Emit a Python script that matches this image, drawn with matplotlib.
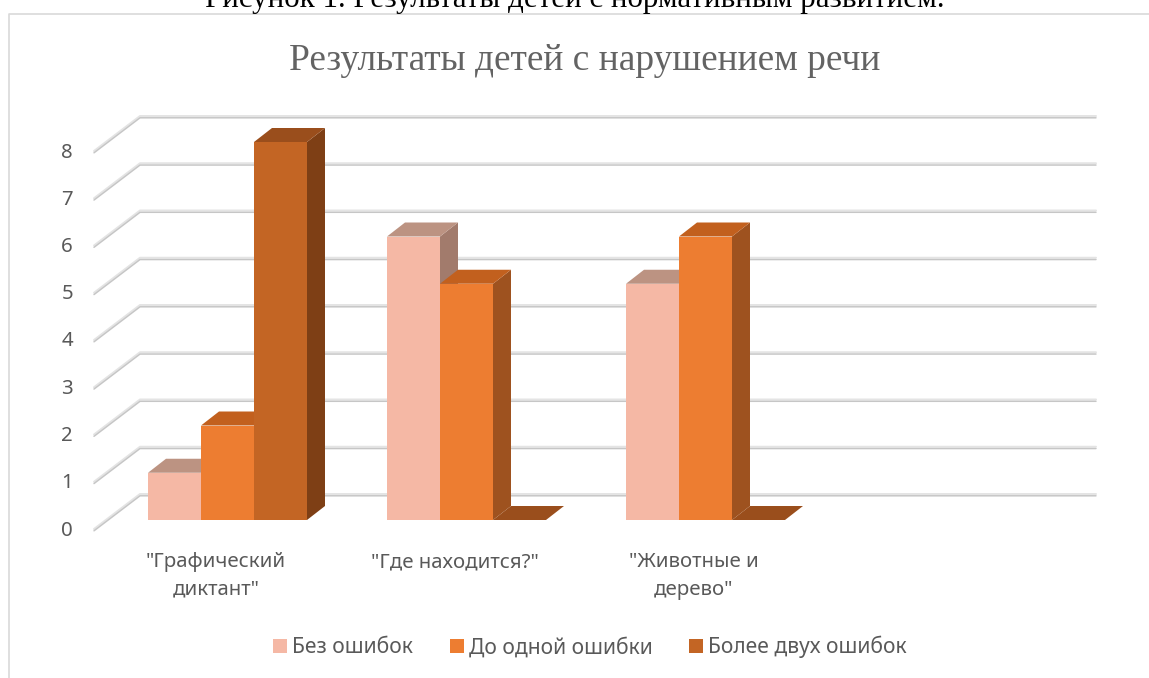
import matplotlib
matplotlib.use("Agg")
import matplotlib.pyplot as plt
from matplotlib.lines import Line2D
from matplotlib.patches import Patch, Polygon
from matplotlib.transforms import ScaledTranslation

categories = ['"Графический\nдиктант"', '"Где находится?"', '"Животные и\nдерево"', '']
series_names = ['Без ошибок', 'До одной ошибки', 'Более двух ошибок']
no_errors = [1, 6, 5]
one_error = [2, 5, 6]
two_errors = [8, 0, 0]
y_ticks = [0, 1, 2, 3, 4, 5, 6, 7, 8]
front_colors = ['#F5B8A5', '#ED7D31', '#C36524']
top_colors = ['#BC9382', '#C2601E', '#9A4E1C']
side_colors = ['#A27B6C', '#9E521F', '#7E3F15']
chart_title = 'Результаты детей с нарушением речи'
page_caption = 'Рисунок 1. Результаты детей с нормативным развитием.'

W, H = 1149, 678
fig = plt.figure(figsize=(W / 100, H / 100), dpi=100, facecolor='white')
ax = fig.add_axes([140 / W, 1 - 495 / H, 956 / W, 378 / H])
ax.set_xlim(-0.5, 3.5)
ax.set_ylim(0, 8)
ax.patch.set_visible(False)
for s in ax.spines.values():
    s.set_visible(False)

PX_X = 239.0
PX_Y = 47.25


def at(x, y, dx=0.0, dy=0.0):
    """Data point moved by a depth offset in pixels (dy is upwards)."""
    return (x + dx / PX_X, y + dy / PX_Y)


# gridlines: back wall plus the slanted side wall
for v in y_ticks:
    for shift, col, lw in [(1.0, '#E4E4E4', 2.0), (-0.8, '#C6C6C6', 1.5)]:
        xs, ys = zip(at(-0.5, v, -46, -35 + shift), at(-0.5, v, 0, shift), at(3.5, v, 0, shift))
        ax.plot(xs, ys, color=col, lw=lw * 0.72, clip_on=False, zorder=1,
                solid_capstyle='round', solid_joinstyle='round')

BAR_PX = 53.0
FRONT = (-32.0, -25.0)
DEPTH = (18.0, 14.0)
BAR_W = BAR_PX / PX_X
series = [no_errors, one_error, two_errors]

z = 3
for i in range(3):
    for j, vals in enumerate(series):
        v = vals[i]
        left = i + (j - 1.5) * BAR_W + FRONT[0] / PX_X
        right = left + BAR_W
        base = FRONT[1] / PX_Y
        top = v + base
        dx, dy = DEPTH
        if v > 0:
            side = [at(right, base), at(right, base, dx, dy), at(right, top, dx, dy), at(right, top)]
            ax.add_patch(Polygon(side, closed=True, fc=side_colors[j], ec='none', zorder=z, clip_on=False))
        cap = [at(left, top), at(right, top), at(right, top, dx, dy), at(left, top, dx, dy)]
        ax.add_patch(Polygon(cap, closed=True, fc=top_colors[j], ec='none', zorder=z, clip_on=False))
        ax.bar(left, v, width=BAR_W, bottom=base, align='edge', color=front_colors[j],
               edgecolor='none', zorder=z, clip_on=False)
        z += 1

# axes labels
ax.set_xticks(range(4))
ax.set_xticklabels(categories)
ax.set_yticks(y_ticks)
ax.set_yticklabels([str(v) for v in y_ticks])
ax.tick_params(length=0, labelsize=14.7, labelcolor='#595959', pad=0)
for t in ax.get_xticklabels() + ax.get_yticklabels():
    t.set_fontfamily('Noto Sans')
xoff = ScaledTranslation(-43.5 / 100, -57 / 100, fig.dpi_scale_trans)
for t in ax.get_xticklabels():
    t.set_transform(t.get_transform() + xoff)
    t.set_linespacing(1.52)
yoff = ScaledTranslation(-67 / 100, -33 / 100, fig.dpi_scale_trans)
for t in ax.get_yticklabels():
    t.set_transform(t.get_transform() + yoff)

# titles and frame
fig.text(585 / W, 1 - 61 / H, chart_title, ha='center', va='center', color='#636363',
         fontsize=26.9, family='Liberation Serif')
fig.text(575 / W, 1 - 7.5 / H, page_caption, ha='center', va='baseline', color='black',
         fontsize=22.3, family='Liberation Serif')
fig.add_artist(Line2D([9 / W, 9 / W, 1], [0, 1 - 14 / H, 1 - 14 / H], color='#D9D9D9', lw=1.2,
                      transform=fig.transFigure))

handles = [Patch(fc=c, ec='none') for c in front_colors]
leg = fig.legend(handles, series_names, ncol=3, frameon=False, loc='center',
                 bbox_to_anchor=(590 / W, 1 - 647 / H), prop={'family': 'Noto Sans', 'size': 15.15},
                 handlelength=0.67, handleheight=0.67, handletextpad=0.24, columnspacing=1.73,
                 labelcolor='#595959')

fig.savefig('out.png', dpi=100)
